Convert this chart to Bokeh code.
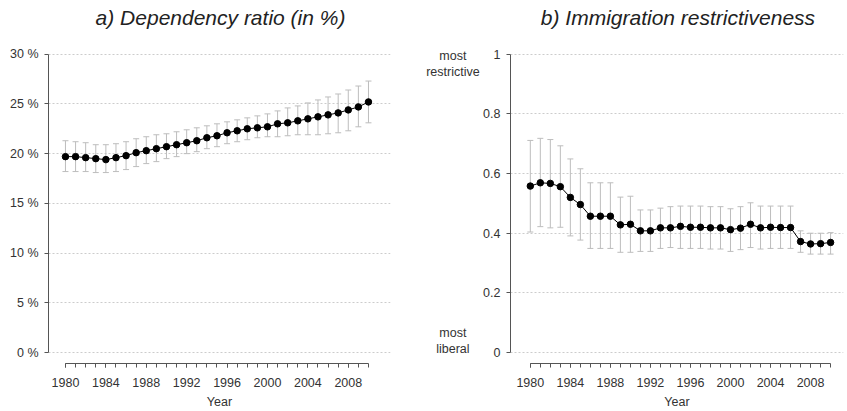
from bokeh.plotting import figure
from bokeh.layouts import row
from bokeh.models import (ColumnDataSource, Whisker, TeeHead, FixedTicker, Range1d,
                          PrintfTickFormatter)
from bokeh.core.properties import value
from bokeh.embed import file_html
from bokeh.resources import INLINE

years = list(range(1980, 2011))

dep_ratio = [19.7, 19.7, 19.6, 19.5, 19.4, 19.6, 19.8, 20.1, 20.3, 20.5, 20.7, 20.9, 21.1, 21.3, 21.6,
             21.8, 22.1, 22.3, 22.5, 22.6, 22.7, 23.0, 23.1, 23.3, 23.5, 23.7, 23.9, 24.1, 24.4, 24.7, 25.2]
dep_lower = [18.2, 18.2, 18.2, 18.1, 18.1, 18.2, 18.4, 18.7, 19.0, 19.2, 19.5, 19.7, 20.0, 20.2, 20.5,
             20.7, 21.0, 21.2, 21.4, 21.6, 21.7, 21.7, 21.8, 21.9, 21.9, 21.9, 22.0, 22.1, 22.3, 22.7, 23.1]
dep_upper = [21.3, 21.2, 21.1, 20.9, 20.9, 21.0, 21.2, 21.5, 21.7, 21.9, 22.0, 22.2, 22.4, 22.6, 22.8,
             23.0, 23.2, 23.4, 23.6, 23.8, 24.0, 24.3, 24.6, 24.8, 25.1, 25.4, 25.7, 26.0, 26.4, 26.8, 27.3]

restr = [0.558, 0.569, 0.567, 0.556, 0.520, 0.496, 0.457, 0.457, 0.457, 0.428, 0.430, 0.408, 0.408, 0.418,
         0.418, 0.423, 0.420, 0.420, 0.418, 0.418, 0.412, 0.417, 0.430, 0.418, 0.420, 0.419, 0.419, 0.372,
         0.364, 0.365, 0.369]
restr_upper = [0.711, 0.718, 0.714, 0.693, 0.649, 0.616, 0.569, 0.569, 0.569, 0.521, 0.524, 0.478, 0.478,
               0.484, 0.489, 0.491, 0.491, 0.491, 0.489, 0.489, 0.482, 0.489, 0.502, 0.491, 0.491, 0.491,
               0.491, 0.408, 0.400, 0.400, 0.402]
restr_lower = [0.404, 0.422, 0.418, 0.420, 0.391, 0.377, 0.349, 0.349, 0.349, 0.336, 0.336, 0.339, 0.339,
               0.349, 0.352, 0.349, 0.349, 0.349, 0.347, 0.347, 0.339, 0.345, 0.352, 0.347, 0.349, 0.349,
               0.349, 0.336, 0.330, 0.330, 0.330]

year_ticks = [1980, 1984, 1988, 1992, 1996, 2000, 2004, 2008]
dep_ticks = [0, 5, 10, 15, 20, 25, 30]
restr_ticks = [0, 0.2, 0.4, 0.6, 0.8, 1]
restr_tick_labels = ["0", "0.2", "0.4", "0.6", "0.8", "1"]
end_words = ["most", "restrictive", "most", "liberal"]
end_word_levels = [0.993, 0.94, 0.067, 0.013]
title_a = "a) Dependency ratio (in %)"
title_b = "b) Immigration restrictiveness"

FONT = "Liberation Sans"
SMALL = "12.5px"
TXT = "#333333"
AXIS = "#555555"
GRID = "#cccccc"
ERR = "#bdbdbd"
H = 411
BOTTOM = 46


def make_fig(x_range, y_range, width, border_left, border_right, y_ticks, y_bounds):
    p = figure(width=width, height=H, x_range=x_range, y_range=y_range,
               output_backend="svg", toolbar_location=None,
               min_border_left=border_left, min_border_right=border_right,
               min_border_top=0, min_border_bottom=BOTTOM)
    p.outline_line_color = None
    p.xgrid.visible = False
    p.ygrid.grid_line_color = GRID
    p.ygrid.grid_line_dash = "2 2"
    p.ygrid.ticker = FixedTicker(ticks=y_ticks)

    xa = p.xaxis[0]
    xa.ticker = FixedTicker(ticks=year_ticks, minor_ticks=years)
    xa.bounds = (1980, 2010)
    xa.axis_label = "Year"
    xa.axis_label_text_font = FONT
    xa.axis_label_text_font_size = SMALL
    xa.axis_label_text_font_style = "normal"
    xa.axis_label_text_color = TXT
    xa.axis_label_standoff = 5
    ya = p.yaxis[0]
    ya.ticker = FixedTicker(ticks=y_ticks)
    ya.bounds = y_bounds
    for ax in (xa, ya):
        ax.axis_line_color = AXIS
        ax.major_tick_line_color = AXIS
        ax.minor_tick_line_color = AXIS
        ax.major_tick_in = 0
        ax.major_tick_out = 4
        ax.minor_tick_in = 0
        ax.minor_tick_out = 4
        ax.major_label_text_font = FONT
        ax.major_label_text_font_size = SMALL
        ax.major_label_text_color = TXT
    ya.major_label_standoff = 6
    xa.major_label_standoff = 10
    ya.minor_tick_line_color = None
    return p


def add_title(p, x, y, text):
    p.text(x=[x], y=[y], text=[text], text_align="center", text_baseline="middle",
           text_font=value(FONT), text_font_size="21px", text_font_style="italic",
           text_color="#222222")


def add_series(p, xs, ys, lo, up):
    src = ColumnDataSource(dict(x=xs, y=ys, lo=lo, up=up))
    p.add_layout(Whisker(base="x", upper="up", lower="lo", source=src, line_color=ERR, line_width=1,
                         upper_head=TeeHead(size=6, line_color=ERR, line_width=1),
                         lower_head=TeeHead(size=6, line_color=ERR, line_width=1)))
    p.line("x", "y", source=src, line_color="black", line_width=1)
    p.scatter("x", "y", source=src, size=6.5, fill_color="black", line_color="black")


# Panel a
pa = make_fig(Range1d(1978.32, 2012.18), Range1d(-1.1, 35.4), 420, 48, 30, dep_ticks, (0, 30))
pa.yaxis[0].formatter = PrintfTickFormatter(format="%d %%")
add_series(pa, years, dep_ratio, dep_lower, dep_upper)
add_title(pa, 1995.35, 33.7, title_a)

# text column with the end labels of panel b's scale
pl = figure(width=60, height=H, x_range=Range1d(0, 1), y_range=Range1d(-0.03667, 1.18),
            output_backend="svg", toolbar_location=None, x_axis_location=None, y_axis_location=None,
            min_border_left=0, min_border_right=0, min_border_top=0, min_border_bottom=BOTTOM)
pl.outline_line_color = None
pl.grid.visible = False
pl.text(x=[0.54] * len(end_words), y=end_word_levels, text=end_words, text_align="center",
        text_baseline="middle", text_font=value(FONT), text_font_size=SMALL, text_color=TXT)

# Panel b
pb = make_fig(Range1d(1978.02, 2011.29), Range1d(-0.03667, 1.18), 367, 27, 4, restr_ticks, (0, 1))
pb.yaxis[0].major_label_overrides = {t: l for t, l in zip(restr_ticks, restr_tick_labels)}
add_series(pb, years, restr, restr_lower, restr_upper)
add_title(pb, 1994.75, 1.1233, title_b)

layout = row(pa, pl, pb)
open("out.html", "w").write(file_html(layout, INLINE))
